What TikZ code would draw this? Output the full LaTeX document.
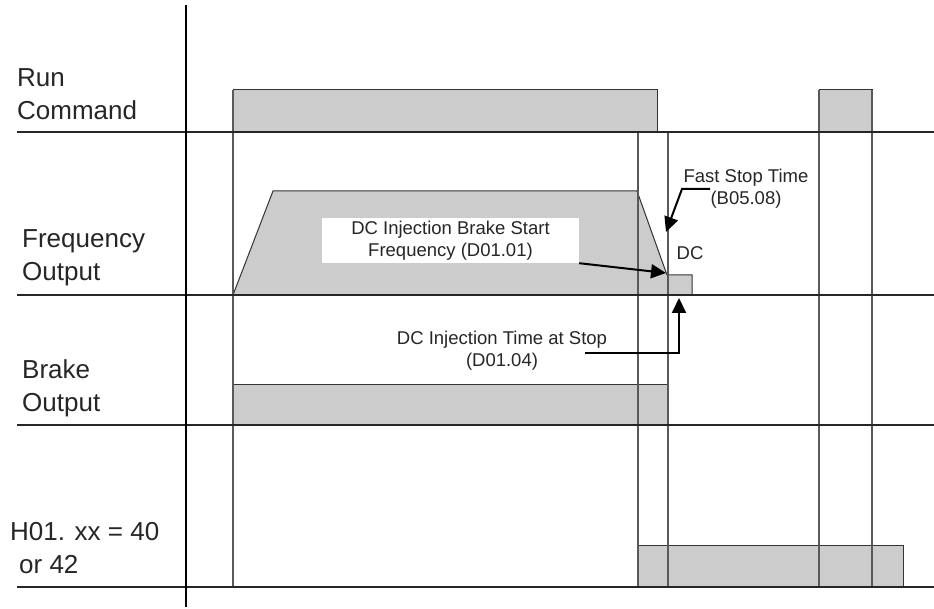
\documentclass[tikz,border=0pt]{standalone}
\usepackage{fontspec}
\setmainfont{Liberation Sans}
\usetikzlibrary{arrows.meta, positioning}

\begin{document}
\begin{tikzpicture}[x=1pt, y=-1pt,
  axisline/.style={draw=black, line width=2pt},
  rowline/.style={draw=black!85, line width=2pt},
  timeline/.style={draw=black!65, line width=1.4pt},
  pulse/.style={draw=black!80, fill=black!20, line width=1pt},
  siglabel/.style={font=\fontsize{26}{33}\selectfont, text=black!85, align=left, anchor=north west, inner sep=0pt},
  annot/.style={font=\fontsize{18.5}{22}\selectfont, text=black!85, align=center, inner sep=0pt},
  callout/.style={-{Triangle[length=15pt, width=14pt]}, draw=black, line width=2pt},
]

\useasboundingbox (0,0) rectangle (934,609);

% Signal levels (filled first, the lines go on top)
\draw[pulse] (233,90) rectangle (657,132);
\draw[pulse] (819,90) rectangle (872,132);
\draw[pulse] (233,295) -- (273,191) -- (637,191) -- (667,275) -- (692,275) -- (692,295) -- cycle;
\draw[pulse] (233,384) rectangle (668,425);
\draw[pulse] (637,545) rectangle (903,587);

% Time markers
\foreach \x/\ytop in {233/90, 638/132, 668/132, 819/90, 872/90}
  \draw[timeline] (\x,\ytop) -- (\x,587);

% Row separators and axis
\foreach \y in {132, 295, 425, 587}
  \draw[rowline] (17,\y) -- (934,\y);
\draw[axisline] (186,5) -- (186,607);

% Signal names
\node[siglabel] (runcmd)   at (17,68.5)  {Run\\Command};
\node[siglabel] (freqout)  at (22,229.5) {Frequency\\Output};
\node[siglabel] (brakeout) at (22,359.5) {Brake\\Output};
\node[siglabel] (hsel)     at (10,522.5) {H01. xx = 40\\\hspace*{9pt}or 42};

% Parameter notes
\node[annot, fill=white, minimum width=257pt, minimum height=45pt] (dcfreq) at (450.5,240.5) {DC Injection Brake Start\\Frequency (D01.01)};
\node[annot] (faststop) at (746,189) {Fast Stop Time\\(B05.08)};
\node[annot] (dctime)   at (502,351) {DC Injection Time at Stop\\(D01.04)};
\node[annot] (dclabel)  at (690,253) {DC};

% Callout arrows
\coordinate (dcstart) at (666,273);
\coordinate (fstail)  at (710,189);
\coordinate (fsbend)  at (682,189);
\coordinate (fstip)   at (666,232);
\coordinate (dttail)  at (585,353);
\coordinate (dtbend)  at (679,353);
\coordinate (dttip)   at (679,298);

\draw[callout] (dcfreq.south east) -- (dcstart);
\draw[callout] (fstail) -- (fsbend) -- (fstip);
\draw[callout] (dttail) -- (dtbend) -- (dttip);

\end{tikzpicture}
\end{document}
